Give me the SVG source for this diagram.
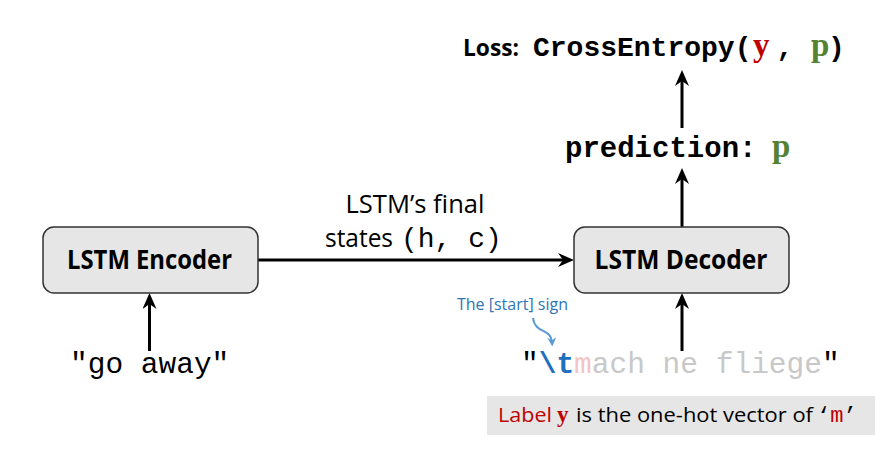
<svg xmlns="http://www.w3.org/2000/svg" width="889" height="460" viewBox="0 0 889 460">
<style>
.box{fill:#e6e6e6;stroke:#333;stroke-width:1.5}
.sb{font-family:'Open Sans','Liberation Sans',sans-serif;font-weight:bold}
.s{font-family:'Open Sans','Liberation Sans',sans-serif}
.m{font-family:'Liberation Mono','Courier New',monospace}
.se{font-family:'Liberation Serif','Times New Roman',serif;font-weight:bold}
.ln{stroke:#000;stroke-width:3;fill:none}
</style>
<defs>
<marker id="ah" viewBox="0 0 16 14" markerWidth="16" markerHeight="14" refX="10" refY="7" orient="auto" markerUnits="userSpaceOnUse">
<path d="M0,0 L16,7 L0,14 L5,7 Z" fill="#000"/>
</marker>
<marker id="ahb" viewBox="0 0 10 10" markerWidth="9" markerHeight="9" refX="5" refY="5" orient="auto" markerUnits="userSpaceOnUse">
<path d="M0,0 L10,5 L0,10 L3,5 Z" fill="#5b9bd5"/>
</marker>
</defs>
<g id="connectors">
<line class="ln" x1="258" y1="260" x2="568" y2="260" marker-end="url(#ah)"/>
<line class="ln" x1="149.5" y1="351" x2="149.5" y2="299" marker-end="url(#ah)"/>
<line class="ln" x1="682" y1="351" x2="682" y2="299" marker-end="url(#ah)"/>
<line class="ln" x1="682" y1="227" x2="682" y2="174" marker-end="url(#ah)"/>
<line class="ln" x1="682" y1="128" x2="682" y2="76" marker-end="url(#ah)"/>
<path d="M533,318 C535,334 551,328 552,342" stroke="#5b9bd5" stroke-width="2" fill="none" marker-end="url(#ahb)"/>
</g>
<g id="edge-label">
<text class="s" x="415" y="213" font-size="25" text-anchor="middle" textLength="139" lengthAdjust="spacingAndGlyphs">LSTM’s final</text>
<text class="s" x="325" y="247" font-size="25" textLength="68" lengthAdjust="spacingAndGlyphs">states</text>
<text class="m" x="401" y="247" font-size="28">(h, c)</text>
</g>
<g id="encoder">
<rect class="box" x="43" y="227" width="215" height="66" rx="11"/>
<text class="sb" x="149.5" y="269" font-size="27" text-anchor="middle" textLength="165" lengthAdjust="spacingAndGlyphs">LSTM Encoder</text>
</g>
<g id="decoder">
<rect class="box" x="574" y="227" width="215" height="66" rx="11"/>
<text class="sb" x="681" y="269" font-size="27" text-anchor="middle" textLength="173" lengthAdjust="spacingAndGlyphs">LSTM Decoder</text>
</g>
<g id="encoder-input">
<text class="m" x="70" y="373" font-size="29.5">"go away"</text>
</g>
<g id="decoder-input">
<text class="m" x="521" y="373" font-size="29.5">"<tspan fill="#1f6fbf" font-weight="bold">\t</tspan><tspan fill="#f2c4c4">m</tspan><tspan fill="#c8c8c8">ach ne fliege</tspan>"</text>
</g>
<g id="start-note">
<text class="s" x="457" y="310" font-size="16" fill="#2e75b6" textLength="111" lengthAdjust="spacingAndGlyphs">The [start] sign</text>
</g>
<g id="prediction">
<text class="m" x="565" y="157" font-size="29" font-weight="bold">prediction:</text>
<text class="se" x="772" y="157" font-size="33" fill="#548235">p</text>
</g>
<g id="loss">
<text class="sb" x="463" y="56" font-size="24" textLength="56" lengthAdjust="spacingAndGlyphs">Loss:</text>
<text class="m" x="533" y="56" font-size="28" font-weight="bold">CrossEntropy(</text>
<text class="se" x="753" y="56" font-size="33" fill="#c00000">y</text>
<text class="m" x="776.5" y="56" font-size="28" font-weight="bold">,</text>
<text class="se" x="811" y="56" font-size="33" fill="#548235">p</text>
<text class="m" x="828" y="56" font-size="28" font-weight="bold">)</text>
</g>
<g id="label-note">
<rect x="487" y="396" width="388" height="39" fill="#e6e6e6"/>
<text class="s" x="498" y="422" font-size="20" fill="#c00000" textLength="54" lengthAdjust="spacingAndGlyphs">Label</text>
<text class="se" x="557" y="422" font-size="23" fill="#c00000">y</text>
<text class="s" x="576" y="422" font-size="20" fill="#000" textLength="237" lengthAdjust="spacingAndGlyphs">is the one-hot vector of</text>
<text class="m" x="817" y="422" font-size="22">‘<tspan fill="#c00000">m</tspan>’</text>
</g>
</svg>
